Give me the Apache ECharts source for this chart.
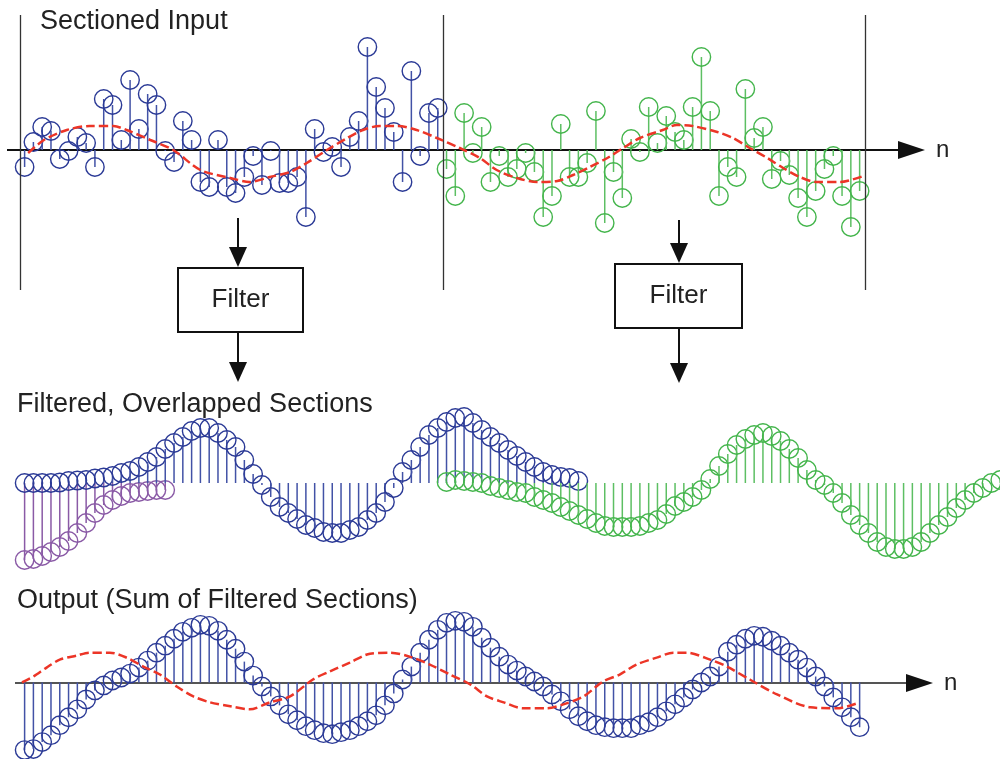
<!DOCTYPE html>
<html>
<head>
<meta charset="utf-8">
<script src="https://cdn.jsdelivr.net/npm/echarts@6/dist/echarts.min.js"></script>
<style>
  html, body { margin: 0; padding: 0; background: #fff; }
  #main { width: 1000px; height: 759px; }
</style>
</head>
<body>
<div id="main"></div>
<script>
// sample values (pixel units, baseline = 0)
var sec2Start = 48;
var inputSec1 = [-17, 8, 23, 19, -9, -1, 13, 7, -17, 51, 45, 10, 70, 21, 56, 45, -1, -12, 29, 10,
  -32, -37, 10, -37, -43, -27, -6, -35, -1, -33, -33, -27, -67, 21, -2, 3, -17, 13, 29, 103,
  63, 42, 18, -32, 79, -6, 37, 42];
var inputSec2 = [-19, -46, 37, -3, 23, -32, -6, -27, -19, -3, -22, -67, -46, 26, -27, -27, -13, 39, -73, -22,
  -48, 11, -2, 43, 7, 34, 18, 10, 43, 93, 39, -46, -17, -27, 61, 12, 23, -29, -11, -25,
  -48, -67, -41, -19, -6, -46, -77, -41];
// red dashed trend, [n, value]
var inputTrend = [[0.4, -3], [2.2, 10], [4.8, 20], [7.4, 24], [10.1, 24], [11.6, 20], [14.3, 10], [16.9, 0],
  [20, -20], [23.4, -28], [25.6, -32], [27.9, -27], [30.2, -22], [32.1, -13], [34.4, 0], [36.7, 12],
  [38.5, 20], [40.4, 24], [42.4, 24], [44.6, 20], [46.9, 12], [49.5, 2], [51.8, -8], [53.7, -20],
  [56, -28], [58.3, -32], [60.6, -31], [62.4, -25], [64.3, -17], [66.3, -8], [68.1, 2], [70, 12],
  [72.6, 20], [74.2, 25], [76, 24], [78.8, 18], [80.6, 12], [82.5, 2], [84.5, -8], [86.3, -18],
  [88.2, -27], [90.1, -32], [92.8, -32], [95.4, -26]];

var filtSec1 = [0, 0, 0, 0, 0.5, 2, 2.5, 3, 4.5, 5.5, 7, 10, 12, 16, 21, 26, 34, 40, 46, 52,
  55, 55, 50, 43, 36, 23, 9, -2, -14, -24, -30, -36, -42, -45, -49, -50, -50, -47, -44, -37,
  -30, -19, -5, 11, 23, 36, 48, 55, 61, 65, 66, 60, 53, 46, 40, 33, 27, 21, 16, 11,
  8, 6, 5, 2];
var filtPrev = [-77, -76, -73, -69, -64, -58, -50, -40, -30, -22, -17, -13, -10, -9, -8, -7, -7];
var filtSec2 = [1, 3, 2, 1, 0, -3, -5, -7, -9, -10, -14, -17, -20, -24, -28, -32, -36, -40, -43, -44,
  -44, -44, -43, -40, -37, -31, -23, -19, -14, -7, 4, 17, 29, 38, 44, 48, 50, 47, 42, 34,
  25, 13, 3, -2, -10, -20, -32, -42, -50, -59, -64, -66, -66, -64, -59, -50, -42, -34, -25, -17,
  -10, -5, 0, 3];

var output = [-68, -67, -60, -53, -43, -35, -27, -17, -8, -3, 2, 5, 9, 15, 22, 30, 37, 44, 51, 55,
  58, 57, 52, 43, 34, 21, 7, -4, -14, -23, -32, -38, -44, -48, -51, -52, -50, -48, -44, -39,
  -33, -23, -11, 3, 16, 30, 43, 53, 60, 62, 61, 56, 45, 35, 26, 18, 12, 6, 1, -4,
  -12, -19, -27, -34, -39, -43, -45, -46, -46, -46, -43, -40, -35, -29, -22, -15, -7, 0, 6, 16,
  31, 38, 44, 47, 46, 42, 37, 30, 23, 15, 6, -4, -15, -25, -35, -45];
var outputTrend = [[-0.3, 0], [1, 6], [2.5, 15], [4, 23], [5.9, 27], [7.4, 30], [9.7, 30], [11.6, 25],
  [13.5, 16], [15.4, 8], [17.3, -4], [19.2, -14], [21.1, -20], [23.4, -24], [25.6, -27], [27.9, -20],
  [30.2, -14], [32.8, 3], [34.7, 11], [37, 20], [39.3, 29], [41.6, 30], [43.8, 26], [46.1, 18],
  [48.4, 8], [50.7, -2], [52.6, -14], [54.5, -20], [56.7, -26], [59.4, -26], [61.3, -22], [63.6, -14],
  [65.8, 1], [67.7, 8], [69.6, 18], [71.9, 25], [73.8, 30], [75.3, 30], [78, 23], [79.9, 16],
  [82.5, 3], [85.6, -12], [89.4, -25], [92.4, -26], [94.7, -21]];

var BLUE = '#2b3a96', BLUE_STEM = '#4252a6';
var GREEN = '#44b54c', GREEN_STEM = '#5dbf63';
var PURPLE = '#8a5aa6';
var RED = '#ec3527';
var FONT = '"Liberation Sans", Arial, sans-serif';

function pts(arr, start) {
  return arr.map(function (v, i) { return [i + start, v]; });
}

function stemRender(circleColor, stemColor) {
  return function (params, api) {
    var n = api.value(0);
    var base = api.coord([n, 0]);
    var tip = api.coord([n, api.value(1)]);
    return {
      type: 'group',
      children: [
        { type: 'line', shape: { x1: base[0], y1: base[1], x2: tip[0], y2: tip[1] },
          style: { stroke: stemColor, lineWidth: 1.5 } },
        { type: 'circle', shape: { cx: tip[0], cy: tip[1], r: 9.2 },
          style: { fill: 'none', stroke: circleColor, lineWidth: 1.4 } }
      ]
    };
  };
}

function stemSeries(data, panel, c, sc) {
  return {
    type: 'custom',
    xAxisIndex: panel, yAxisIndex: panel,
    renderItem: stemRender(c, sc),
    data: data,
    clip: false,
    silent: true
  };
}

function trendSeries(data, panel, extra) {
  var s = {
    type: 'line',
    xAxisIndex: panel, yAxisIndex: panel,
    data: data,
    smooth: 0.3,
    showSymbol: false,
    silent: true,
    lineStyle: { color: RED, width: 2.5, type: [9, 4] },
    z: 5
  };
  for (var k in extra) s[k] = extra[k];
  return s;
}

// n = 0 lands at x ~ 24.6px, 8.79px per sample
var xMin = -2.8, xMax = 110.97;
function xAx(i) {
  return { gridIndex: i, type: 'value', min: xMin, max: xMax, show: false };
}
function yAx(i, lo, hi) {
  return { gridIndex: i, type: 'value', min: lo, max: hi, show: false };
}

function arrowDown(x, y1, y2) {
  return [
    { type: 'line', shape: { x1: x, y1: y1, x2: x, y2: y2 - 18 }, style: { stroke: '#111', lineWidth: 2 } },
    { type: 'polygon', shape: { points: [[x - 9, y2 - 20], [x + 9, y2 - 20], [x, y2]] }, style: { fill: '#111' } }
  ];
}
function filterBox(x, y, w, h) {
  return [
    { type: 'rect', shape: { x: x, y: y, width: w, height: h }, style: { fill: '#fff', stroke: '#111', lineWidth: 2 } },
    { type: 'text', x: x + w / 2, y: y + h / 2, style: { text: 'Filter', font: '26px ' + FONT, fill: '#222', align: 'center', verticalAlign: 'middle' } }
  ];
}
function nAxis(x1, x2, y, color) {
  return [
    { type: 'line', shape: { x1: x1, y1: y, x2: x2, y2: y }, style: { stroke: color, lineWidth: 2 } },
    { type: 'polygon', shape: { points: [[x2 - 2, y - 9], [x2 + 25, y], [x2 - 2, y + 9]] }, style: { fill: '#111' } },
    { type: 'text', x: x2 + 36, y: y, style: { text: 'n', font: '24px ' + FONT, fill: '#222', verticalAlign: 'middle' } }
  ];
}
function title(txt, x, y) {
  return { type: 'text', x: x, y: y, style: { text: txt, font: '27px ' + FONT, fill: '#222', verticalAlign: 'middle' } };
}

var graphics = [].concat(
  [title('Sectioned Input', 40, 22), title('Filtered, Overlapped Sections', 17, 405),
    title('Output (Sum of Filtered Sections)', 17, 601)],
  nAxis(7, 900, 150, '#111'),
  nAxis(15, 908, 683, '#555'),
  arrowDown(238, 218, 267), filterBox(178, 268, 125, 64), arrowDown(238, 333, 382),
  arrowDown(679, 220, 263), filterBox(615, 264, 127, 64), arrowDown(679, 329, 383)
);

var chart = echarts.init(document.getElementById('main'));
var option = {
  animation: false,
  backgroundColor: '#fff',
  grid: [
    { left: 0, width: 1000, top: 15, height: 275 },
    { left: 0, width: 1000, top: 395, height: 180 },
    { left: 0, width: 1000, top: 600, height: 160 }
  ],
  xAxis: [xAx(0), xAx(1), xAx(2)],
  yAxis: [yAx(0, -140, 135), yAx(1, -92, 88), yAx(2, -77, 83)],
  graphic: graphics,
  series: [
    stemSeries(pts(inputSec1, 0), 0, BLUE, BLUE_STEM),
    stemSeries(pts(inputSec2, sec2Start), 0, GREEN, GREEN_STEM),
    trendSeries(inputTrend, 0, {
      markLine: {
        silent: true, symbol: 'none', label: { show: false },
        lineStyle: { color: '#333', width: 1.3, type: 'solid' },
        data: [{ xAxis: -0.5 }, { xAxis: sec2Start - 0.4 }, { xAxis: 2 * sec2Start - 0.4 }]
      }
    }),
    stemSeries(pts(filtPrev, 0), 1, PURPLE, PURPLE),
    stemSeries(pts(filtSec1, 0), 1, BLUE, BLUE_STEM),
    stemSeries(pts(filtSec2, sec2Start), 1, GREEN, GREEN_STEM),
    stemSeries(pts(output, 0), 2, BLUE, BLUE_STEM),
    trendSeries(outputTrend, 2, {})
  ]
};
chart.setOption(option);
</script>
</body>
</html>
